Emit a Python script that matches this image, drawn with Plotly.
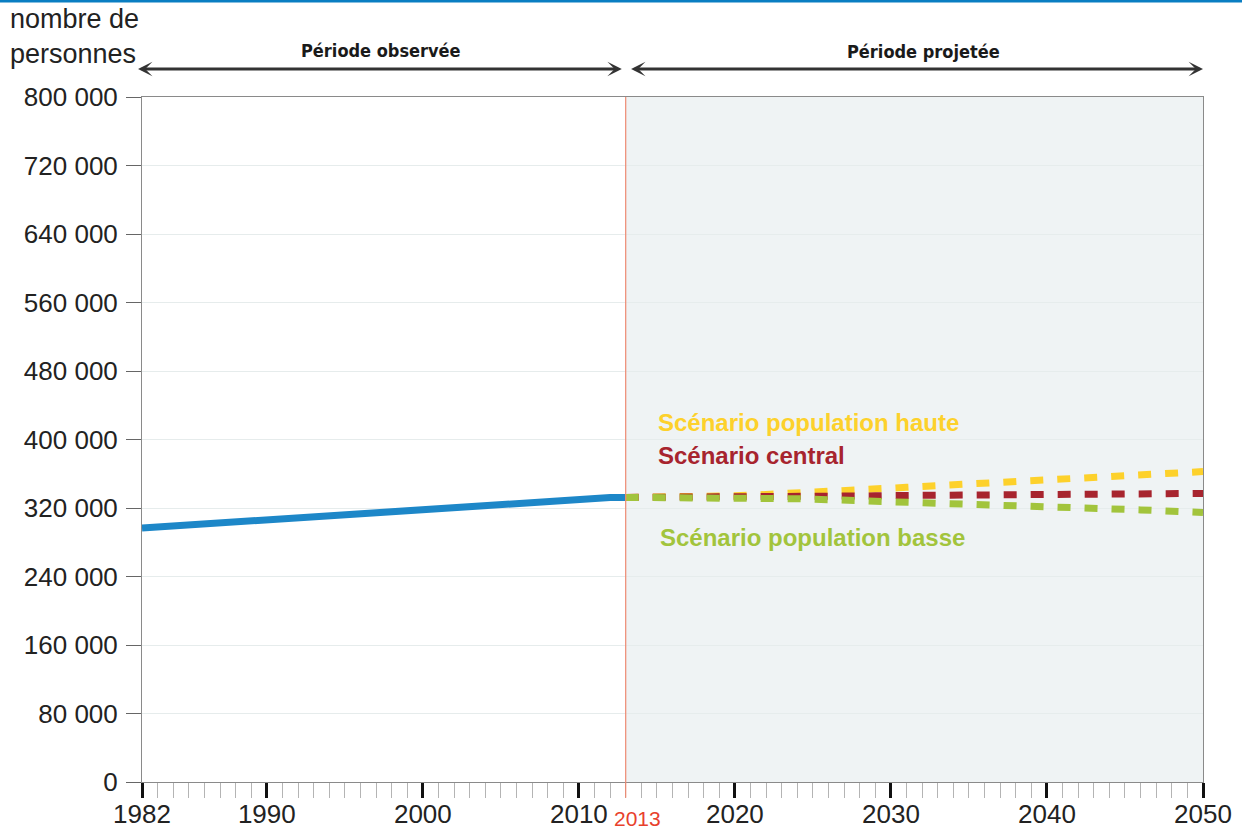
import plotly.graph_objects as go

# ---- data (values in persons) ----
obs_years = list(range(1982, 2014))
obs_values = [296700, 297900, 299000, 300200, 301400, 302600, 303700, 304900, 306100, 307200,
              308400, 309600, 310800, 311900, 313100, 314200, 315300, 316400, 317500, 318600,
              319700, 320800, 322500, 324500, 326200, 326600, 326900, 328000, 330800, 331900,
              332200, 332400]

proj_years = list(range(2013, 2051))
haute = [332400, 332400, 332500, 332600, 332900, 333300, 333800, 334300, 334900, 335600,
         336400, 337300, 338200, 339200, 340200, 341200, 342200, 343200, 344200, 345200,
         346100, 347100, 348000, 349000, 350000, 351000, 352000, 353000, 353900, 354900,
         355800, 356800, 357700, 358700, 359600, 360600, 361500, 362500]
central = [332400, 332400, 332400, 332400, 332500, 332500, 332600, 332700, 332800, 332900,
           333000, 333200, 333400, 333600, 333800, 334000, 334200, 334500, 334700, 334900,
           335100, 335300, 335500, 335600, 335800, 336000, 336100, 336300, 336400, 336500,
           336600, 336700, 336800, 336800, 336900, 336900, 337000, 337000]
basse = [332400, 332400, 332400, 332400, 332300, 332200, 332100, 332000, 331800, 331500,
         331200, 330800, 330300, 329800, 329200, 328600, 328000, 327400, 326800, 326200,
         325600, 325000, 324500, 323900, 323400, 322900, 322300, 321800, 321100, 320500,
         319800, 319200, 318500, 317800, 317000, 316300, 315500, 314700]

y_ticks = [0, 80000, 160000, 240000, 320000, 400000, 480000, 560000, 640000, 720000, 800000]
y_labels = ["0", "80 000", "160 000", "240 000", "320 000", "400 000", "480 000",
            "560 000", "640 000", "720 000", "800 000"]
x_ticks = [1982, 1990, 2000, 2010, 2020, 2030, 2040, 2050]
x_labels = ["1982", "1990", "2000", "2010", "2020", "2030", "2040", "2050"]
minor_years = list(range(1982, 2051))
split_year = 2013

scen_labels = ["Scénario population haute", "Scénario central", "Scénario population basse"]

FONT = "Liberation Sans, Arial, sans-serif"
NARROW = "Liberation Sans Narrow, DejaVu Sans Condensed, DejaVu Sans, sans-serif"
C_BLUE = "#1d87c8"
C_YEL = "#fdd12b"
C_RED = "#a7242e"
C_GRN = "#a2c43c"

fig = go.Figure()

fig.add_trace(go.Scatter(x=obs_years, y=obs_values, mode="lines",
                         line=dict(color=C_BLUE, width=7), showlegend=False, hoverinfo="skip"))
for vals, col in [(haute, C_YEL), (central, C_RED), (basse, C_GRN)]:
    fig.add_trace(go.Scatter(x=proj_years, y=vals, mode="lines",
                             line=dict(color=col, width=7, dash="13px,14px"),
                             showlegend=False, hoverinfo="skip"))

shapes = [
    dict(type="rect", xref="x", yref="y", x0=split_year, x1=2050, y0=0, y1=800000,
         fillcolor="#eff3f4", line=dict(width=0), layer="below"),
    dict(type="line", xref="x", yref="paper", x0=split_year, x1=split_year, y0=-0.023, y1=1,
         line=dict(color="#ee8a72", width=1.2)),
    dict(type="line", xref="paper", yref="paper", x0=-0.14, x1=1.04, y0=1.1401, y1=1.1401,
         line=dict(color="#0a7ec2", width=3)),
]

ARROW = dict(showarrow=True, arrowside="end+start", arrowhead=3, startarrowhead=3,
             arrowwidth=3, arrowsize=0.8, startarrowsize=0.8, arrowcolor="#333",
             standoff=0, startstandoff=0, axref="x", ayref="pixel", ay=0,
             xref="x", yref="paper", text="")

annotations = [
    dict(text="nombre de<br>personnes", xref="paper", yref="paper", x=-0.1263, y=1.088,
         xanchor="left", yanchor="middle", align="left", showarrow=False,
         font=dict(family=FONT, size=27, color="#222")),
    dict(text="Période observée", xref="x", yref="paper", x=1997.3, y=1.0686,
         showarrow=False, xanchor="center", yanchor="middle",
         font=dict(family=NARROW, size=18, color="#1a1a1a", weight="bold")),
    dict(text="Période projetée", xref="x", yref="paper", x=2032.06, y=1.0657,
         showarrow=False, xanchor="center", yanchor="middle",
         font=dict(family=NARROW, size=18, color="#1a1a1a", weight="bold")),
    dict(x=2012.75, y=1.0409, ax=1981.65, **ARROW),
    dict(x=2050.0, y=1.0409, ax=2013.25, **ARROW),
    dict(text=str(split_year), xref="x", yref="paper", x=split_year, xshift=12, y=-0.0526,
         xanchor="center", yanchor="middle", showarrow=False,
         font=dict(family=FONT, size=21, color="#e8412c")),
    dict(text=scen_labels[0], xref="x", yref="y", x=2014.92, y=419300, xanchor="left",
         yanchor="middle", showarrow=False,
         font=dict(family=FONT, size=24, color=C_YEL, weight="bold")),
    dict(text=scen_labels[1], xref="x", yref="y", x=2014.92, y=381900, xanchor="left",
         yanchor="middle", showarrow=False,
         font=dict(family=FONT, size=24, color=C_RED, weight="bold")),
    dict(text=scen_labels[2], xref="x", yref="y", x=2015.1, y=285000, xanchor="left",
         yanchor="middle", showarrow=False,
         font=dict(family=FONT, size=24, color=C_GRN, weight="bold")),
]

fig.update_layout(
    width=1242, height=830,
    margin=dict(l=142, r=39, t=97, b=48),
    paper_bgcolor="white", plot_bgcolor="white",
    showlegend=False,
    shapes=shapes, annotations=annotations,
    font=dict(family=FONT, size=26, color="#222"),
    xaxis=dict(range=[1982, 2050], tickmode="array", tickvals=x_ticks, ticktext=x_labels,
               ticks="outside", ticklen=15, tickwidth=3, tickcolor="#111",
               ticklabelstandoff=-6,
               showgrid=False, zeroline=False, showline=True, linecolor="#8a8a8a",
               linewidth=1, mirror=True, automargin=False,
               tickfont=dict(family=FONT, size=26, color="#222"),
               minor=dict(tickmode="array", tickvals=minor_years, ticks="outside",
                          ticklen=15, tickwidth=1, tickcolor="#b4b4b4", showgrid=False)),
    yaxis=dict(range=[0, 800000], tickmode="array", tickvals=y_ticks, ticktext=y_labels,
               ticks="outside", ticklen=15, tickwidth=1, tickcolor="#666",
               ticklabelstandoff=3, automargin=False,
               showgrid=True, gridcolor="#e6ecec", gridwidth=1, zeroline=False,
               showline=True, linecolor="#8a8a8a", linewidth=1, mirror=True,
               tickfont=dict(family=FONT, size=26, color="#222")),
)

fig.write_html("out.html", config={"displayModeBar": False},
               post_script="document.body.style.margin='0';"
                           "document.documentElement.style.overflow='hidden';")
